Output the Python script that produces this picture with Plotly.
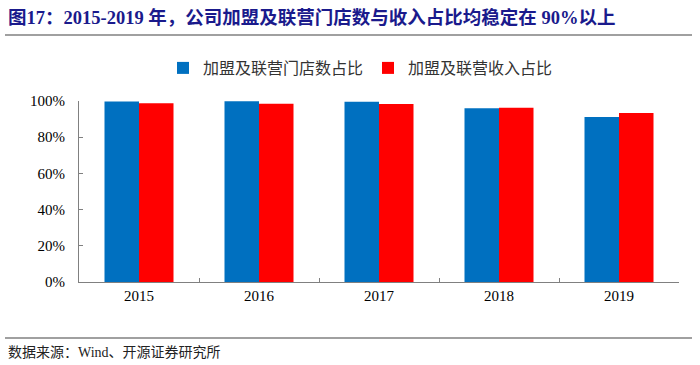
import plotly.graph_objects as go

years = ["2015", "2016", "2017", "2018", "2019"]
store_share = [0.997, 0.998, 0.996, 0.960, 0.912]
revenue_share = [0.987, 0.985, 0.983, 0.963, 0.934]
series_names = ["加盟及联营门店数占比", "加盟及联营收入占比"]
title_text = "图17：2015-2019 年，公司加盟及联营门店数与收入占比均稳定在 90%以上"
source_text = "数据来源：Wind、开源证券研究所"

W, H = 700, 365
L, R, T, B = 79, 21, 101, 83
pw = W - L - R
ph = H - T - B

def px(x):
    return (x - L) / pw

def py(y):
    return (H - B - y) / ph

fig = go.Figure()
fig.add_trace(go.Bar(x=years, y=store_share, name=series_names[0],
                     marker=dict(color="#0070C0", line=dict(width=0))))
fig.add_trace(go.Bar(x=years, y=revenue_share, name=series_names[1],
                     marker=dict(color="#FF0000", line=dict(width=0))))

fig.update_layout(
    width=W, height=H,
    margin=dict(l=L, r=R, t=T, b=B, autoexpand=False),
    paper_bgcolor="white", plot_bgcolor="white",
    barmode="group", bargap=0.425, bargroupgap=0,
    font=dict(family="Liberation Serif, Noto Sans CJK SC", size=14, color="#000000"),
    showlegend=True,
    legend=dict(orientation="h", x=px(163), xanchor="left", y=py(68), yanchor="middle",
                font=dict(family="Noto Sans CJK SC", size=16, color="#333333"),
                itemwidth=30, entrywidth=160, traceorder="normal"),
    xaxis=dict(type="category", showline=True, linecolor="#808080", linewidth=1,
               ticks="inside", ticklen=4, tickcolor="#808080", tickson="boundaries",
               showgrid=False, tickfont=dict(family="Liberation Serif", size=15)),
    yaxis=dict(range=[0, 1], dtick=0.2, tickformat=".0%", showline=True,
               linecolor="#808080", linewidth=1, ticks="inside", ticklen=4,
               tickcolor="#808080", showgrid=False, zeroline=False,
               ticklabelstandoff=10,
               tickfont=dict(family="Liberation Serif", size=15)),
)

fig.add_annotation(text="<b>" + title_text + "</b>", xref="paper", yref="paper",
                   x=px(6), y=py(17), xanchor="left", yanchor="middle", showarrow=False,
                   font=dict(family="Liberation Serif, Noto Sans CJK SC", size=18.5, color="#1A1A8C"))
fig.add_annotation(text=source_text, xref="paper", yref="paper",
                   x=px(6), y=py(352), xanchor="left", yanchor="middle", showarrow=False,
                   font=dict(family="Liberation Serif, Noto Sans CJK SC", size=14, color="#222222"))
fig.add_shape(type="line", xref="paper", yref="paper", x0=px(5), x1=px(692),
              y0=py(35), y1=py(35), line=dict(color="#808080", width=1.5))
fig.add_shape(type="line", xref="paper", yref="paper", x0=px(5), x1=px(692),
              y0=py(338), y1=py(338), line=dict(color="#808080", width=1.5))

fig.write_html("out.html", config={"displayModeBar": False},
               post_script="document.body.style.margin='0px';")
